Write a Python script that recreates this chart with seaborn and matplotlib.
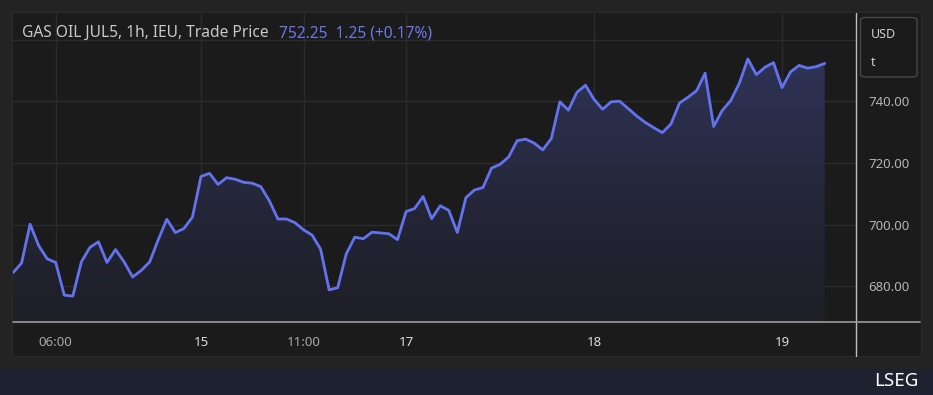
import numpy as np
import pandas as pd
import matplotlib
matplotlib.use("Agg")
import matplotlib.pyplot as plt
from matplotlib.patches import Rectangle, FancyBboxPatch
from matplotlib.lines import Line2D
import seaborn as sns

# Hourly trade prices, GAS OIL JUL5 (IEU)
prices = [
    684.4, 687.5, 700.1, 693.2, 688.9, 687.7, 677.1, 676.8, 687.9, 692.6,
    694.4, 687.7, 691.9, 687.9, 683.0, 685.1, 687.9, 695.1, 701.7, 697.4,
    698.7, 702.4, 715.6, 716.6, 713.0, 715.2, 714.7, 713.7, 713.4, 712.3,
    707.7, 701.8, 701.8, 700.6, 698.3, 696.6, 692.0, 678.8, 679.5, 690.5,
    695.9, 695.4, 697.5, 697.3, 697.0, 695.1, 704.2, 705.2, 709.1, 701.9,
    706.1, 704.6, 697.4, 708.7, 711.2, 712.0, 718.3, 719.5, 721.9, 727.2,
    727.7, 726.4, 724.2, 727.9, 739.8, 737.1, 742.9, 745.2, 740.6, 737.4,
    739.8, 740.0, 737.6, 735.2, 733.1, 731.4, 729.8, 732.6, 739.4, 741.3,
    743.4, 749.1, 731.8, 737.0, 740.2, 745.8, 753.7, 748.6, 751.0, 752.5,
    744.4, 749.5, 751.6, 750.7, 751.2, 752.25,
]
x_tick_pos = [5, 22, 34, 46, 68, 90]
x_tick_labels = ["06:00", "15", "11:00", "17", "18", "19"]
x_tick_bold = [False, True, False, True, True, True]
y_grid = [680, 700, 720, 740, 760]
y_tick_labels = ["680.00", "700.00", "720.00", "740.00", ""]

title_left = "GAS OIL JUL5, 1h, IEU, Trade Price"
title_right = "752.25  1.25 (+0.17%)"

df = pd.DataFrame({"bar": np.arange(len(prices)), "price": prices})

sns.set_theme(style="dark")
plt.rcParams["font.family"] = ["Noto Sans", "DejaVu Sans"]

W, H = 933, 395
FRAME = "#232323"
PANEL = "#1b1b1b"
LINE = "#6373f0"
GRID = "#2b2b2b"

fig = plt.figure(figsize=(W / 100, H / 100), dpi=100, facecolor=FRAME)


def px(x0, y0, x1, y1):
    """pixel box (top-left origin) -> figure fraction [l, b, w, h]"""
    return [x0 / W, 1 - y1 / H, (x1 - x0) / W, (y1 - y0) / H]


# dark chart panel and bottom branding band (behind the axes)
l, b, w, h = px(12, 12, 921, 356)
fig.patches.append(Rectangle((l, b), w, h, transform=fig.transFigure,
                             facecolor=PANEL, edgecolor="#2a2a2a", lw=1, zorder=-2))
l, b, w, h = px(0, 369, 933, 395)
fig.patches.append(Rectangle((l, b), w, h, transform=fig.transFigure,
                             facecolor="#1e2230", edgecolor="none", zorder=-2))

ax = fig.add_axes(px(13, 13, 855.5, 322))
ax.set_facecolor(PANEL)

ymin, ymax = 668.4, 768.6

# gradient fill under the line
poly = ax.fill_between(df["bar"], df["price"], ymin, color="none", lw=0)
grad = np.linspace(0, 1, 256).reshape(-1, 1)
rgb_top = np.array([0x2f, 0x33, 0x56]) / 255
rgb_bot = np.array([0x1e, 0x1f, 0x27]) / 255
img = rgb_bot + (rgb_top - rgb_bot) * grad[..., None] ** 1.2
im = ax.imshow(img, extent=[0, len(prices) - 1, ymin, max(prices)], origin="lower",
               aspect="auto", zorder=1)
im.set_clip_path(poly.get_paths()[0], transform=ax.transData)

sns.lineplot(data=df, x="bar", y="price", color=LINE, lw=2, ax=ax, zorder=3)
ax.set_xlim(0, 98.6)
ax.set_ylim(ymin, ymax)

ax.set_yticks(y_grid)
ax.set_yticklabels(y_tick_labels)
ax.yaxis.tick_right()
ax.set_xticks(x_tick_pos)
ax.set_xticklabels(x_tick_labels)
ax.tick_params(axis="y", length=0, pad=9, labelsize=9.5, labelcolor="#b4b4b4")
ax.tick_params(axis="x", length=0, pad=10, labelsize=9.5, labelcolor="#a8a8a8")
for lab, bold in zip(ax.get_xticklabels(), x_tick_bold):
    if bold:
        lab.set_fontweight("bold")
        lab.set_color("#dcdcdc")
ax.grid(True, color=GRID, lw=1)
ax.set_xlabel("")
ax.set_ylabel("")
for s in ax.spines.values():
    s.set_visible(False)

# axis separators that run through the label panels
fig.lines.append(Line2D([855.5 / W, 855.5 / W], [1 - 356 / H, 1 - 13 / H],
                        transform=fig.transFigure, color="#bdbdbd", lw=1))
fig.lines.append(Line2D([13 / W, 920 / W], [1 - 322 / H, 1 - 322 / H],
                        transform=fig.transFigure, color="#9a9a9a", lw=1.2))

# title
t = fig.text(22 / W, 1 - 33 / H, title_left, color="#c8c8c8", fontsize=11.2, va="center")
fig.canvas.draw()
bb = t.get_window_extent()
fig.text((bb.x1 + 10) / W, 1 - 33 / H, title_right, color="#6a78e4", fontsize=11.2, va="center")

# currency / unit box
l, b, w, h = px(860.5, 17.5, 917, 77)
fig.patches.append(FancyBboxPatch((l, b), w, h, transform=fig.transFigure,
                                  boxstyle="round,pad=0,rounding_size=0.006",
                                  facecolor=PANEL, edgecolor="#474747", lw=1, zorder=2))
fig.text(871 / W, 1 - 34 / H, "USD", color="#d0d0d0", fontsize=9, va="center")
fig.text(871 / W, 1 - 63 / H, "t", color="#d0d0d0", fontsize=9, va="center")

# branding
fig.text(918 / W, 1 - 381 / H, "LSEG", color="white", fontsize=13.5,
         fontweight="bold", ha="right", va="center")

fig.savefig("out.png", dpi=100, facecolor=FRAME)
